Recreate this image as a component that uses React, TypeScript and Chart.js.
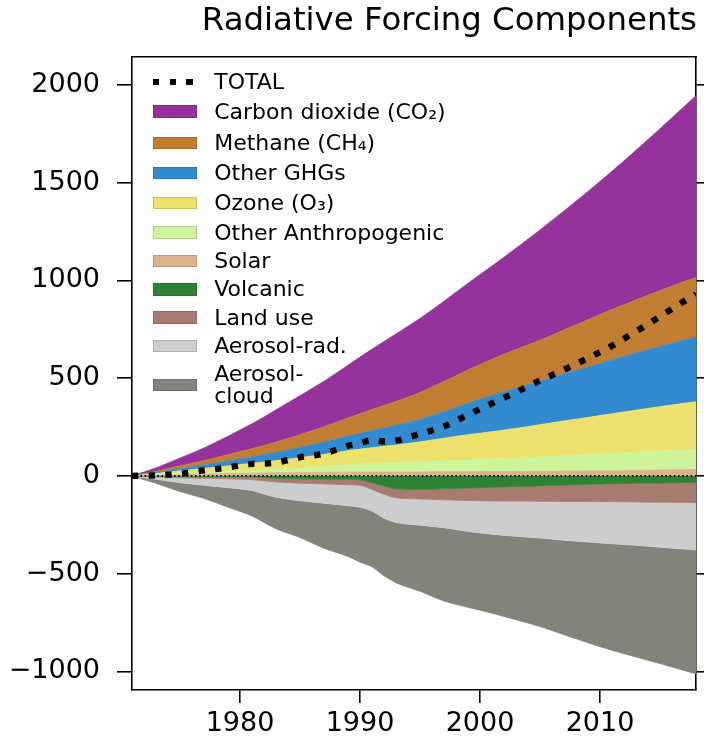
import React, { useEffect, useRef } from 'react';
import { Chart, registerables } from 'chart.js';

Chart.register(...registerables);

const FONT = 'DejaVu Sans';
const chartTitle = 'Radiative Forcing Components';

const years = [1971, 1973, 1975, 1977, 1979, 1981, 1982, 1983, 1985, 1987, 1989, 1990, 1991, 1992, 1993, 1995, 1997, 1999, 2001, 2003, 2005, 2007, 2009, 2011, 2013, 2015, 2017, 2018];

const solar = [0, 3, 6, 9, 12, 14, 15, 16, 17, 18, 19, 20, 20, 20, 20, 20, 21, 21, 22, 22, 23, 24, 25, 26, 28, 30, 32, 33];
const otherAnthropogenic = [0, 3, 7, 9, 11, 14, 16, 18, 23, 30, 38, 41, 44, 46, 48, 52, 55, 60, 64, 69, 74, 79, 84, 89, 93, 97, 101, 103];
const ozone = [0, 6, 13, 20, 28, 36, 40, 44, 53, 62, 72, 76, 80, 85, 90, 102, 117, 130, 140, 152, 165, 178, 190, 203, 215, 227, 238, 243];
const otherGHGs = [0, 5, 11, 18, 25, 33, 37, 42, 52, 63, 75, 81, 88, 94, 100, 115, 135, 160, 185, 205, 222, 240, 258, 275, 292, 308, 323, 330];
const methane = [0, 6, 14, 22, 32, 42, 47, 53, 65, 78, 92, 100, 108, 115, 122, 138, 155, 170, 185, 198, 210, 225, 242, 258, 272, 285, 300, 306];
const carbonDioxide = [0, 18, 40, 65, 95, 128, 146, 165, 200, 233, 270, 290, 308, 327, 346, 378, 410, 444, 477, 518, 564, 609, 656, 707, 765, 828, 894, 929];
const volcanic = [0, -1, -2, -2, -3, -4, -8, -12, -15, -16, -17, -20, -35, -52, -66, -68, -66, -62, -58, -54, -50, -47, -43, -40, -38, -36, -34, -33];
const landUse = [0, -4, -8, -10, -12, -15, -17, -19, -22, -25, -28, -28, -35, -42, -46, -50, -56, -64, -70, -75, -80, -84, -88, -92, -95, -99, -102, -104];
const aerosolRad = [0, -12, -25, -36, -45, -56, -68, -78, -90, -99, -108, -112, -110, -122, -126, -134, -143, -158, -170, -180, -188, -198, -207, -215, -222, -230, -238, -242];
const aerosolCloud = [0, -21, -45, -67, -100, -130, -145, -161, -188, -230, -259, -281, -285, -295, -308, -338, -375, -388, -404, -427, -452, -483, -515, -545, -571, -595, -621, -633];
const total = [0, 3, 11, 28, 43, 62, 63, 68, 95, 114, 154, 167, 183, 176, 180, 215, 253, 313, 371, 428, 488, 543, 602, 666, 739, 815, 893, 932];
const zeroLine = [0, 0];
const zeroLineYears = [1971, 2018];

const xTicks = [1980, 1990, 2000, 2010];
const yTicks = [-1000, -500, 0, 500, 1000, 1500, 2000];

// legend order (as in the figure)
const legendNames = ['TOTAL', 'Carbon dioxide (CO₂)', 'Methane (CH₄)', 'Other GHGs', 'Ozone (O₃)', 'Other Anthropogenic', 'Solar', 'Volcanic', 'Land use', 'Aerosol-rad.', 'Aerosol-\ncloud'];
const legendColors = ['#000000', '#96329b', '#c17d32', '#338bcf', '#ece16c', '#cdf39b', '#dcb48b', '#2e8233', '#a87b70', '#cdcdcd', '#82837b'];

// stacking order (bottom-up for positives, then top-down for negatives)
const positiveStack = [
  { name: legendNames[6], values: solar, color: legendColors[6] },
  { name: legendNames[5], values: otherAnthropogenic, color: legendColors[5] },
  { name: legendNames[4], values: ozone, color: legendColors[4] },
  { name: legendNames[3], values: otherGHGs, color: legendColors[3] },
  { name: legendNames[2], values: methane, color: legendColors[2] },
  { name: legendNames[1], values: carbonDioxide, color: legendColors[1] },
];
const negativeStack = [
  { name: legendNames[7], values: volcanic, color: legendColors[7] },
  { name: legendNames[8], values: landUse, color: legendColors[8] },
  { name: legendNames[9], values: aerosolRad, color: legendColors[9] },
  { name: 'Aerosol-cloud', values: aerosolCloud, color: legendColors[10] },
];

const toPoints = (xs: number[], ys: number[]) => xs.map((x, i) => ({ x, y: ys[i] }));

function buildDatasets() {
  const ds: any[] = [];
  ds.push({
    label: 'TOTAL',
    data: toPoints(years, total),
    stack: 'total',
    borderColor: '#000',
    borderWidth: 6.3,
    borderDash: [6.3, 10.4],
    borderCapStyle: 'butt',
    cubicInterpolationMode: 'monotone',
    fill: false,
    pointRadius: 0,
    xAxisID: 'x',
    yAxisID: 'y',
  });
  ds.push({
    label: 'zero',
    data: toPoints(zeroLineYears, zeroLine),
    stack: 'zero',
    borderColor: '#000',
    borderWidth: 1.6,
    borderDash: [1.6, 2.6],
    borderCapStyle: 'butt',
    fill: false,
    pointRadius: 0,
    xAxisID: 'x',
    yAxisID: 'y',
  });
  const addArea = (s: { name: string; values: number[]; color: string }, first: boolean) => {
    ds.push({
      label: s.name,
      data: toPoints(years, s.values),
      stack: 'areas',
      backgroundColor: s.color,
      borderColor: s.color,
      borderWidth: 0.8,
      cubicInterpolationMode: 'monotone',
      fill: first ? 'origin' : '-1',
      pointRadius: 0,
      xAxisID: 'x',
      yAxisID: 'y',
    });
  };
  positiveStack.forEach((s, i) => addArea(s, i === 0));
  negativeStack.forEach((s, i) => addArea(s, i === 0));
  return ds;
}

const AXIS = '#000';
const LW = 1.6;

export default function App() {
  const canvasRef = useRef<HTMLCanvasElement>(null);

  useEffect(() => {
    if (!canvasRef.current) return;
    const chart = new Chart(canvasRef.current, {
      type: 'line',
      data: { datasets: buildDatasets() },
      options: {
        animation: false,
        responsive: false,
        devicePixelRatio: 1,
        layout: { padding: { left: 0, right: 7, top: 0, bottom: 0 } },
        elements: { point: { radius: 0 } },
        plugins: {
          legend: { display: false },
          tooltip: { enabled: false },
          title: {
            display: true,
            text: chartTitle,
            align: 'end',
            color: '#000',
            font: { family: FONT, size: 32.4, weight: 'normal' },
            padding: { top: 2, bottom: 16 },
          },
        },
        scales: {
          x: {
            type: 'linear',
            position: 'bottom',
            min: 1971,
            max: 2018,
            afterBuildTicks: (s: any) => { s.ticks = xTicks.map((v) => ({ value: v })); },
            afterFit: (s: any) => { s.height = 52; },
            grid: { drawOnChartArea: false, drawTicks: true, tickLength: 13, color: AXIS, lineWidth: LW },
            border: { display: true, color: AXIS, width: LW },
            ticks: {
              color: '#000',
              font: { family: FONT, size: 27 },
              padding: 5,
              maxRotation: 0,
              autoSkip: false,
              callback: (v: any) => String(v),
            },
          },
          x2: {
            type: 'linear',
            position: 'top',
            min: 1971,
            max: 2018,
            afterFit: (s: any) => { s.height = 0; },
            grid: { drawOnChartArea: false, drawTicks: false },
            border: { display: true, color: AXIS, width: LW },
            ticks: { display: false },
          },
          y: {
            type: 'linear',
            position: 'left',
            stacked: true,
            min: -1095,
            max: 2143,
            afterBuildTicks: (s: any) => { s.ticks = yTicks.map((v) => ({ value: v })); },
            afterFit: (s: any) => { s.width = 132; },
            grid: { drawOnChartArea: false, drawTicks: true, tickLength: 15, color: AXIS, lineWidth: LW },
            border: { display: true, color: AXIS, width: LW },
            ticks: {
              color: '#000',
              font: { family: FONT, size: 27 },
              padding: 17,
              autoSkip: false,
              callback: (v: any) => (v < 0 ? '\u2212' + Math.abs(v) : String(v)),
            },
          },
          y2: {
            type: 'linear',
            position: 'right',
            min: -1095,
            max: 2143,
            afterBuildTicks: (s: any) => { s.ticks = yTicks.map((v) => ({ value: v })); },
            afterFit: (s: any) => { s.width = 1; },
            grid: { drawOnChartArea: false, drawTicks: true, tickLength: 9, color: AXIS, lineWidth: LW },
            border: { display: true, color: AXIS, width: LW },
            ticks: { display: false },
          },
        },
      } as any,
    });
    return () => chart.destroy();
  }, []);

  const rowHeight = (name: string) => (name.includes('\n') ? 50 : /[₂₃₄]/.test(name) ? 31.5 : 28.3);

  return (
    <div style={{ position: 'absolute', left: 0, top: 0, width: 704, height: 742, background: '#fff', overflow: 'hidden' }}>
      <canvas ref={canvasRef} width={704} height={742} style={{ display: 'block', width: 704, height: 742 }} />
      <div
        style={{
          position: 'absolute',
          left: 152.7,
          top: 67.5,
          fontFamily: FONT,
          fontSize: 22,
          color: '#000',
          display: 'flex',
          flexDirection: 'column',
        }}
      >
        {legendNames.map((name, i) => (
          <div key={name} style={{ height: rowHeight(name), display: 'flex', alignItems: 'center' }}>
            {i === 0 ? (
              <div
                style={{
                  width: 44,
                  height: 6.3,
                  background: 'repeating-linear-gradient(90deg, #000 0px, #000 6.5px, transparent 6.5px, transparent 16.7px)',
                }}
              />
            ) : (
              <div
                style={{
                  width: 44,
                  height: 12.5,
                  background: legendColors[i],
                  boxShadow: 'inset 0 0 0 1px rgba(0,0,0,0.15)',
                }}
              />
            )}
            <div style={{ marginLeft: 17.5, whiteSpace: 'pre-line', lineHeight: '22px' }}>{name}</div>
          </div>
        ))}
      </div>
    </div>
  );
}
